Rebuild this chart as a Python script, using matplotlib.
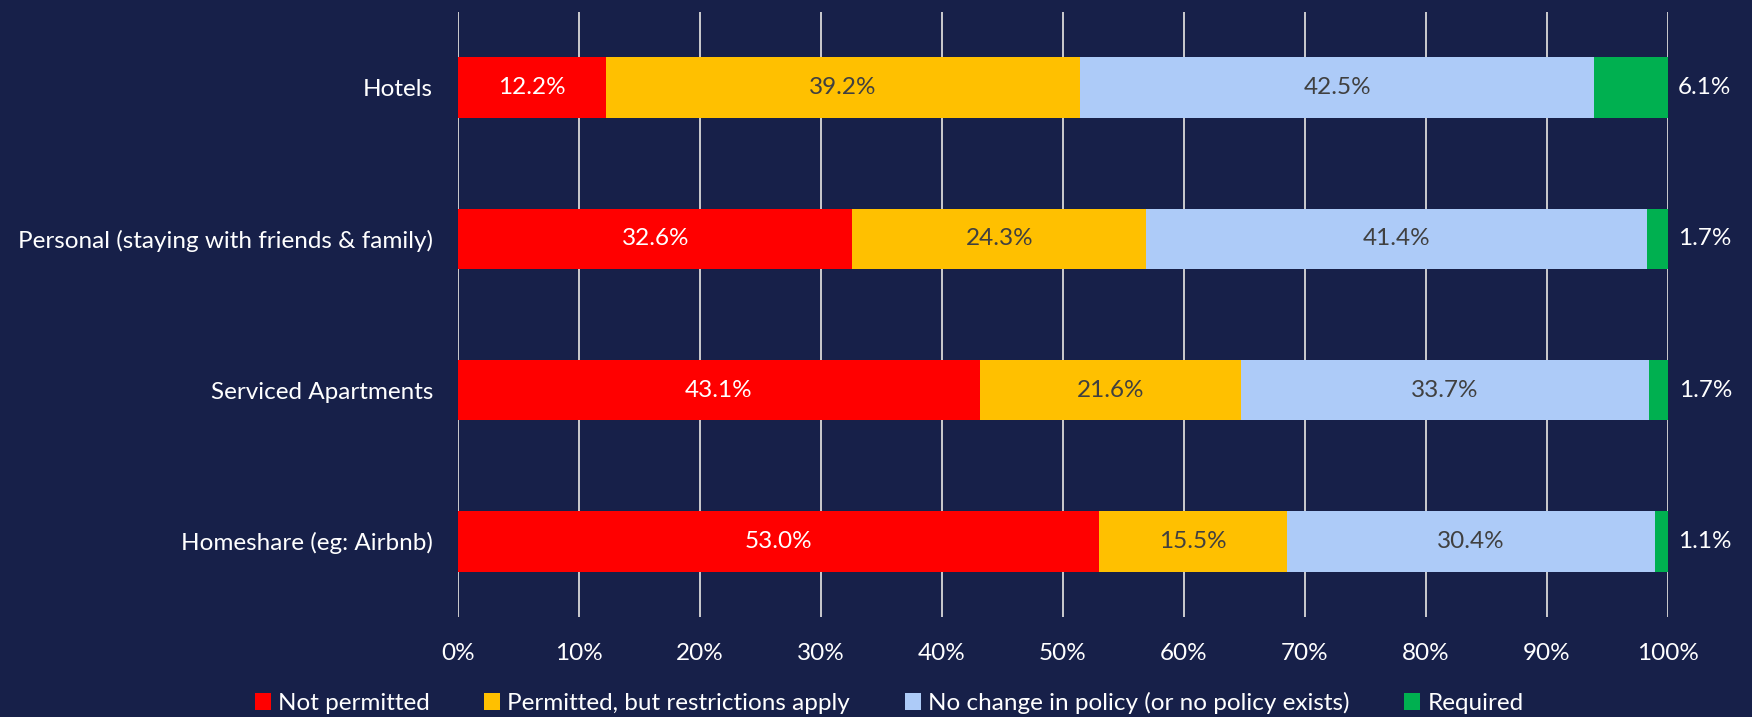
import matplotlib.pyplot as plt
import numpy as np

# ---- data ----
categories = ["Hotels", "Personal (staying with friends & family)",
              "Serviced Apartments", "Homeshare (eg: Airbnb)"]
series_names = ["Not permitted", "Permitted, but restrictions apply",
                "No change in policy (or no policy exists)", "Required"]
not_permitted = [12.2, 32.6, 43.1, 53.0]
restricted = [39.2, 24.3, 21.6, 15.5]
no_change = [42.5, 41.4, 33.7, 30.4]
required = [6.1, 1.7, 1.7, 1.1]
x_ticks = [0, 10, 20, 30, 40, 50, 60, 70, 80, 90, 100]

colors = ["#FF0000", "#FFC000", "#ADCBF8", "#00B050"]
label_colors = ["white", "#404040", "#404040", "white"]
bg = "#172049"
fs = 17.5

plt.rcParams['font.family'] = ['Lato', 'DejaVu Sans']

fig = plt.figure(figsize=(17.52, 7.17), dpi=100, facecolor=bg)
ax = fig.add_axes([458 / 1752, 1 - 617 / 717, (1668 - 458) / 1752, (617 - 12) / 717])
ax.set_facecolor(bg)

y = np.arange(len(categories))
left = np.zeros(len(categories))
all_series = [not_permitted, restricted, no_change, required]

for i, vals in enumerate(all_series):
    vals = np.array(vals)
    bars = ax.barh(y, vals, left=left, height=0.4, color=colors[i],
                   label=series_names[i], zorder=3)
    if i < 3:
        txts = ax.bar_label(bars, labels=[f"{v:.1f}%" for v in vals], label_type='center',
                            color=label_colors[i], fontsize=fs)
    else:
        # "Required" labels sit outside the bar end
        txts = ax.bar_label(bars, labels=[f"{v:.1f}%" for v in vals], label_type='edge',
                            padding=7, color='white', fontsize=fs)
    for t in txts:
        t.set_annotation_clip(False)
        t.set_clip_on(False)
    left += vals

ax.set_xlim(0, 100)
ax.set_ylim(3.5, -0.5)
ax.set_yticks(y)
ax.set_yticklabels(categories, color='white', fontsize=fs)
ax.set_xticks(x_ticks)
ax.set_xticklabels([f"{t}%" for t in x_ticks], color='white', fontsize=fs)
ax.tick_params(axis='both', length=0)
ax.tick_params(axis='x', pad=19)
ax.tick_params(axis='y', pad=18)
ax.grid(axis='x', color='#D9D9D9', linewidth=1.3, zorder=0)
for s in ax.spines.values():
    s.set_visible(False)

leg = fig.legend(loc='center left', bbox_to_anchor=(233 / 1752, 1 - 703 / 717), ncol=4,
                 frameon=False, fontsize=fs, labelcolor='white',
                 handlelength=0.65, handleheight=0.65, handletextpad=0.3,
                 columnspacing=2.25)

fig.savefig("out.png", dpi=100, facecolor=bg)
